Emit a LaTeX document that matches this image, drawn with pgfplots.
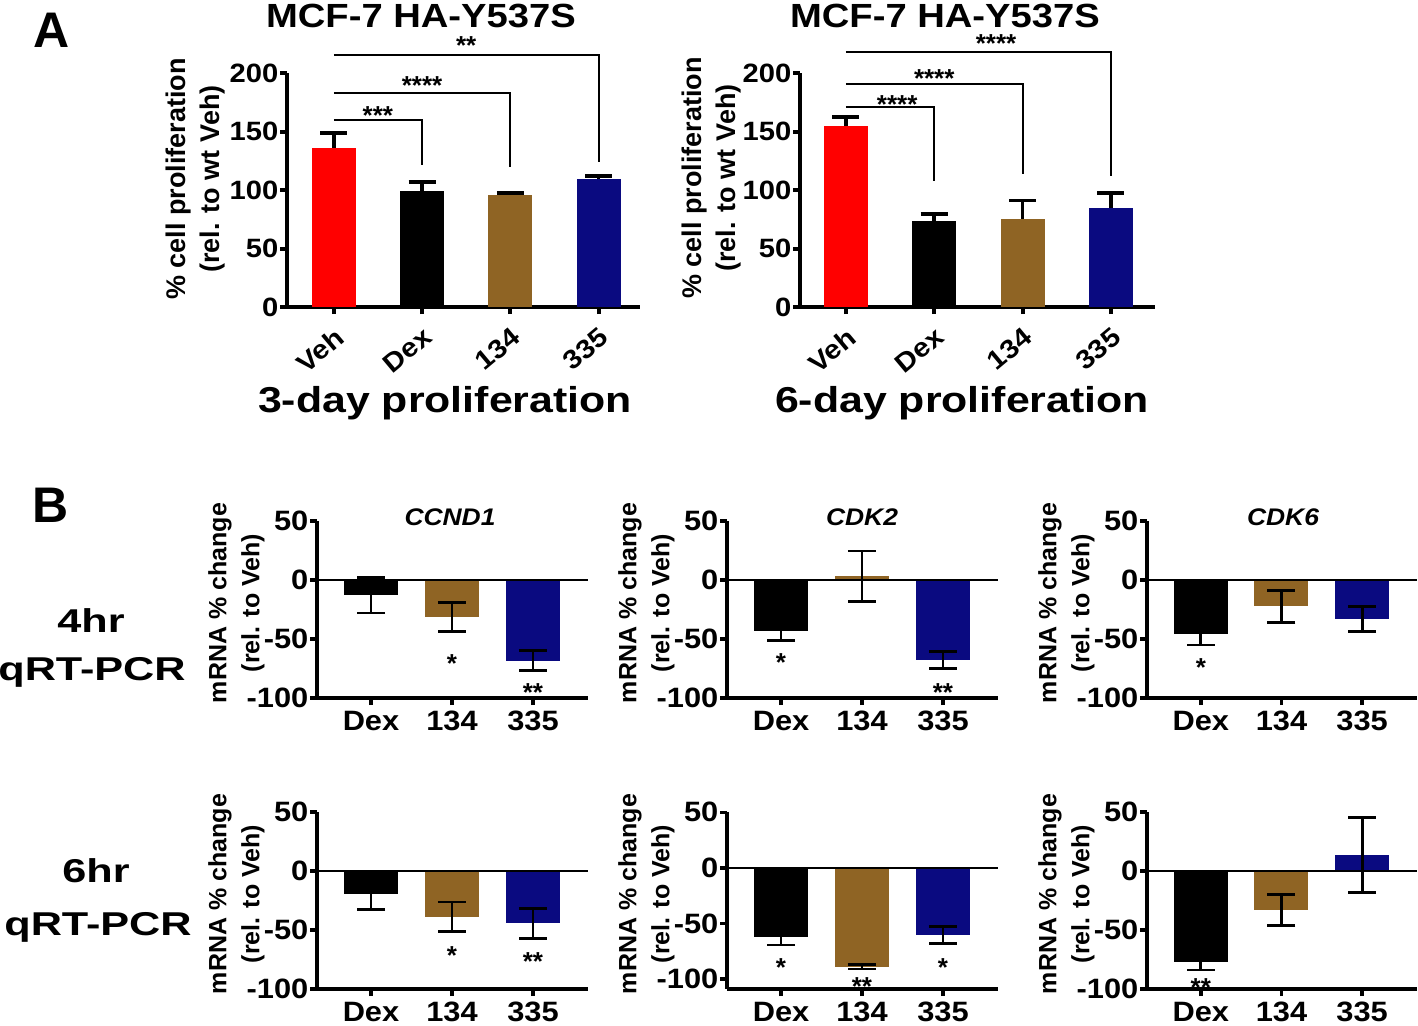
\documentclass[border=0pt]{standalone}
\usepackage{fontspec}
\setmainfont{Liberation Sans}
\newfontfamily\fTitle{Liberation Sans}[FakeStretch=1.14]
\newfontfamily\fSub{Liberation Sans}[FakeStretch=1.19]
\newfontfamily\fRow{Liberation Sans}[FakeStretch=1.31]
\newfontfamily\fTick{Liberation Sans}[FakeStretch=1.1]
\usepackage{pgfplots}
\pgfplotsset{compat=1.18}
\definecolor{vehred}{RGB}{255,0,0}
\definecolor{brownc}{RGB}{143,100,36}
\definecolor{navyc}{RGB}{10,10,128}

\newcommand\titlefont{\fTitle\bfseries\fontsize{33.5}{36}\selectfont}
\newcommand\subfont{\fSub\bfseries\fontsize{36}{40}\selectfont}
\newcommand\rowfont{\fRow\bfseries\fontsize{33}{36}\selectfont}
\newcommand\letterfont{\bfseries\fontsize{50}{54}\selectfont}
\newcommand\tickAfont{\fTick\bfseries\fontsize{26.5}{28}\selectfont}
\newcommand\tickBfont{\fTick\bfseries\fontsize{28}{29}\selectfont}
\newcommand\astfont{\bfseries\fontsize{26}{28}\selectfont}
\newcommand\ylabAfont{\bfseries\fontsize{27}{34}\selectfont}
\newcommand\ylabBfont{\bfseries\fontsize{25}{33}\selectfont}
\newcommand\btitlefont{\fTick\bfseries\itshape\fontsize{24}{26}\selectfont}

\pgfplotsset{
  panelA/.style={scale only axis, height=234pt, axis lines=left,
    axis line style={-, line width=4.2pt, black},
    tick align=outside, major tick length=7pt, tick style={line width=4pt, black},
    clip=false, enlargelimits=false, ymin=0, ymax=200,
    ytick={0,50,100,150,200}, yticklabels={0,50,100,150,200},
    xtick={0,1,2,3}, xticklabels={Veh,Dex,134,335},
    yticklabel style={font=\tickAfont, inner sep=1.5pt},
    xticklabel shift=9pt,
    xticklabel style={font=\tickAfont, rotate=40, anchor=north east, inner sep=2pt}},
  panelB/.style={scale only axis, height=177pt, width=271pt, axis lines=left,
    axis line style={-, line width=3.4pt, black},
    tick align=outside, major tick length=7pt, tick style={line width=3.4pt, black},
    clip=false, enlargelimits=false, xmin=-0.667, xmax=2.68,
    ytick={-100,-50,0,50}, yticklabels={-100,-50,0,50},
    xtick={0,1,2}, xticklabels={Dex,134,335},
    yticklabel style={font=\tickBfont, inner sep=1.5pt},
    xticklabel shift=4pt,
    xticklabel style={font=\tickBfont, inner sep=2pt}},
}
\tikzset{
  bracket/.style={line width=2pt, black},
  ast/.style={font=\astfont, anchor=base, inner sep=0pt, yshift=-15pt},
}

\newcommand\barA[4]{%
  \addplot[ybar, bar width=44pt, bar shift=0pt, fill=#1, draw=none] coordinates {(#2,#3)};
  \addplot[black, line width=3.7pt, mark=none,
    error bars/.cd, y dir=plus, y explicit,
    error bar style={line width=3.7pt, black},
    error mark options={rotate=90, line width=3.7pt, mark size=13.5pt, black}]
    coordinates {(#2,#3) +- (0,#4)};}
\newcommand\barB[4]{%
  \addplot[ybar, bar width=54pt, bar shift=0pt, fill=#1, draw=none] coordinates {(#2,#3)};
  \addplot[black, line width=2.7pt, mark=none,
    error bars/.cd, y dir=both, y explicit,
    error bar style={line width=2.7pt, black},
    error mark options={rotate=90, line width=2.7pt, mark size=14pt, black}]
    coordinates {(#2,#3) +- (0,#4)};}
\newcommand\zeroline{\draw[line width=2.6pt, black] (axis cs:-0.667,0) -- (axis cs:2.68,0);}

\begin{document}
\begin{tikzpicture}[x=1pt,y=1pt]
\path[use as bounding box] (0,0) rectangle (1418,-1025);

% panel letters
\node[font=\letterfont, anchor=base] at (52,-48) {A};
\node[font=\letterfont, anchor=base] at (51,-522) {B};

% ---------- Panel A : 3-day ----------
\begin{axis}[panelA, at={(287pt,-307pt)}, width=353pt, xmin=-0.53, xmax=3.47]
  \barA{vehred}{0}{136}{13}
  \barA{black}{1}{99.5}{7.5}
  \barA{brownc}{2}{96}{1.5}
  \barA{navyc}{3}{109}{3}
  \draw[bracket] (axis cs:0,160) -- (axis cs:1,160) -- (axis cs:1,121);
  \draw[bracket] (axis cs:0,183) -- (axis cs:2,183) -- (axis cs:2,120);
  \draw[bracket] (axis cs:0,215.6) -- (axis cs:3,215.6) -- (axis cs:3,124);
  \node[ast] at (axis cs:0.5,168.4) {***};
  \node[ast] at (axis cs:1,194.6) {****};
  \node[ast] at (axis cs:1.5,228.8) {**};
\end{axis}
\node[font=\titlefont, anchor=base] at (421,-28) {MCF-7 HA-Y537S};
\node[font=\subfont, anchor=base] at (445,-412) {3-day proliferation};
\node[rotate=90, font=\ylabAfont, align=center] at (196,-179) {\% cell proliferation\\(rel. to wt Veh)};

% ---------- Panel A : 6-day ----------
\begin{axis}[panelA, at={(800pt,-307pt)}, width=355pt, xmin=-0.52, xmax=3.5]
  \barA{vehred}{0}{155}{7.5}
  \barA{black}{1}{73.5}{6}
  \barA{brownc}{2}{75.5}{15.5}
  \barA{navyc}{3}{84.5}{13}
  \draw[bracket] (axis cs:0,171) -- (axis cs:1,171) -- (axis cs:1,108);
  \draw[bracket] (axis cs:0,191) -- (axis cs:2,191) -- (axis cs:2,114);
  \draw[bracket] (axis cs:0,218) -- (axis cs:3,218) -- (axis cs:3,112);
  \node[ast] at (axis cs:0.58,178.4) {****};
  \node[ast] at (axis cs:1,200.3) {****};
  \node[ast] at (axis cs:1.7,230.5) {****};
\end{axis}
\node[font=\titlefont, anchor=base] at (945,-28) {MCF-7 HA-Y537S};
\node[font=\subfont, anchor=base] at (962,-412) {6-day proliferation};
\node[rotate=90, font=\ylabAfont, align=center] at (712,-178) {\% cell proliferation\\(rel. to wt Veh)};

% ---------- Panel B row 1 (4hr) ----------
\node[font=\rowfont, anchor=base] at (91,-632) {4hr};
\node[font=\rowfont, anchor=base] at (92,-680) {qRT-PCR};

\begin{axis}[panelB, at={(317pt,-698pt)}, ymin=-100, ymax=50]
  \barB{black}{0}{-13}{15}
  \barB{brownc}{1}{-31.5}{12.3}
  \barB{navyc}{2}{-68.3}{8.5}
  \zeroline
  \node[ast] at (axis cs:1,-66) {*};
  \node[ast] at (axis cs:2,-90) {**};
\end{axis}
\node[font=\btitlefont, anchor=base] at (450,-525) {CCND1};
\node[rotate=90, font=\ylabBfont, align=center] at (236.5,-603) {mRNA \% change\\(rel. to Veh)};

\begin{axis}[panelB, at={(727pt,-698pt)}, ymin=-100, ymax=50]
  \barB{black}{0}{-43}{8}
  \barB{brownc}{1}{3.2}{21.4}
  \barB{navyc}{2}{-68}{7.2}
  \zeroline
  \node[ast] at (axis cs:0,-65) {*};
  \node[ast] at (axis cs:2,-90) {**};
\end{axis}
\node[font=\btitlefont, anchor=base] at (862,-525) {CDK2};
\node[rotate=90, font=\ylabBfont, align=center] at (646.5,-603) {mRNA \% change\\(rel. to Veh)};

\begin{axis}[panelB, at={(1147pt,-698pt)}, width=270pt, ymin=-100, ymax=50]
  \barB{black}{0}{-45.6}{9.4}
  \barB{brownc}{1}{-22.2}{13.6}
  \barB{navyc}{2}{-32.9}{10.7}
  \zeroline
  \node[ast] at (axis cs:0,-68.8) {*};
\end{axis}
\node[font=\btitlefont, anchor=base] at (1283,-525) {CDK6};
\node[rotate=90, font=\ylabBfont, align=center] at (1066.5,-603) {mRNA \% change\\(rel. to Veh)};

% ---------- Panel B row 2 (6hr) ----------
\node[font=\rowfont, anchor=base] at (96,-882) {6hr};
\node[font=\rowfont, anchor=base] at (98,-935) {qRT-PCR};

\begin{axis}[panelB, at={(317pt,-989pt)}, ymin=-100, ymax=50]
  \barB{black}{0}{-19.6}{13}
  \barB{brownc}{1}{-38.7}{12.4}
  \barB{navyc}{2}{-44.2}{12.7}
  \zeroline
  \node[ast] at (axis cs:1,-66.9) {*};
  \node[ast] at (axis cs:2,-72) {**};
\end{axis}
\node[rotate=90, font=\ylabBfont, align=center] at (236.5,-894) {mRNA \% change\\(rel. to Veh)};

\begin{axis}[panelB, at={(727pt,-989pt)}, ymin=-109, ymax=50.3]
  \barB{black}{0}{-62.5}{7}
  \barB{brownc}{1}{-88.9}{2}
  \barB{navyc}{2}{-60.4}{7.8}
  \zeroline
  \node[ast] at (axis cs:0,-84.4) {*};
  \node[ast] at (axis cs:1,-100.9) {**};
  \node[ast] at (axis cs:2,-84.4) {*};
\end{axis}
\node[rotate=90, font=\ylabBfont, align=center] at (646.5,-894) {mRNA \% change\\(rel. to Veh)};

\begin{axis}[panelB, at={(1147pt,-989pt)}, width=270pt, ymin=-100, ymax=50]
  \barB{black}{0}{-76.9}{7}
  \barB{brownc}{1}{-33}{13}
  \barB{navyc}{2}{13.5}{31.8}
  \zeroline
  \node[ast] at (axis cs:0,-93.8) {**};
\end{axis}
\node[rotate=90, font=\ylabBfont, align=center] at (1066.5,-894) {mRNA \% change\\(rel. to Veh)};

\end{tikzpicture}
\end{document}
